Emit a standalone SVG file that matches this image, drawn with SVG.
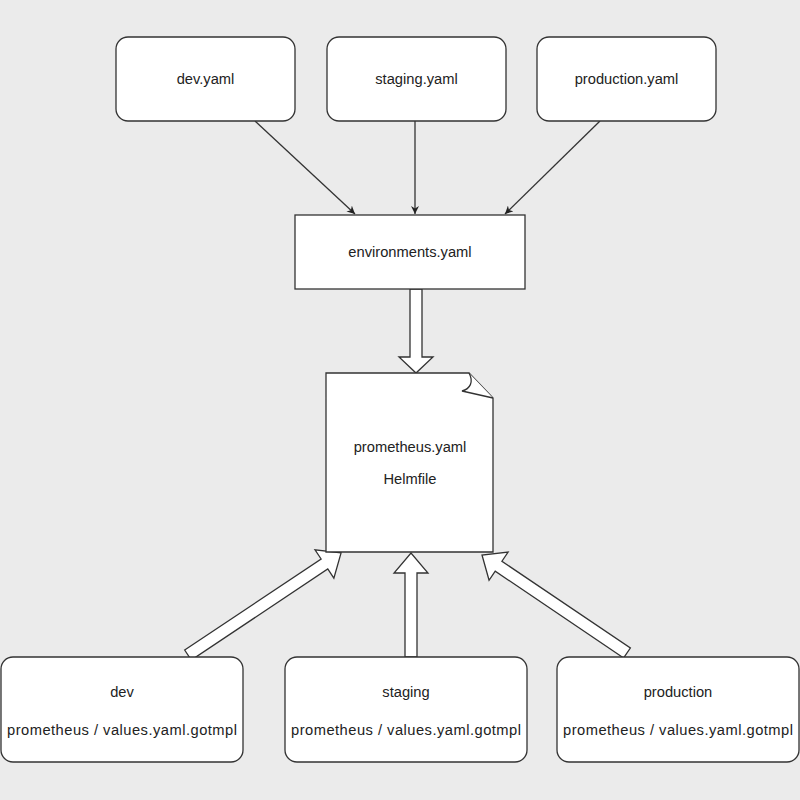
<svg xmlns="http://www.w3.org/2000/svg" width="800" height="800" viewBox="0 0 800 800">
<defs>
<style>
.box{fill:#fff;stroke:#333;stroke-width:1.3}
.t{font-family:"Liberation Sans",Arial,sans-serif;font-size:14.7px;fill:#222;text-anchor:middle;dominant-baseline:central}
.ln{stroke:#333;stroke-width:1.3;fill:none;marker-end:url(#ah)}
.blk{fill:#fff;stroke:#333;stroke-width:1.3;stroke-linejoin:miter}
</style>
<marker id="ah" viewBox="0 0 10 10" refX="10" refY="5" markerWidth="8" markerHeight="8" markerUnits="userSpaceOnUse" orient="auto">
<path d="M0,0 L10,5 L0,10 L3,5 Z" fill="#222"/>
</marker>
</defs>
<rect width="800" height="800" fill="#ebebeb"/>
<g id="connectors">
<line class="ln" x1="255" y1="121" x2="355" y2="214"/>
<line class="ln" x1="415" y1="121" x2="415" y2="214"/>
<line class="ln" x1="600" y1="121" x2="505" y2="214"/>
<polygon class="blk" transform="translate(416,289) rotate(90)" points="0,-6 68,-6 68,-17 84,0 68,17 68,6 0,6"/>
<polygon class="blk" transform="translate(411,657) rotate(-90)" points="0,-6 84,-6 84,-17 104,0 84,17 84,6 0,6"/>
<polygon class="blk" transform="translate(188,655) rotate(-33.7)" points="0,-6 164,-6 164,-17 184,0 164,17 164,6 0,6"/>
<polygon class="blk" transform="translate(627,653) rotate(-145.95)" points="0,-6 155,-6 155,-17 175,0 155,17 155,6 0,6"/>
</g>
<g id="dev-yaml"><rect class="box" x="116" y="37" width="179" height="84" rx="12"/><text class="t" x="205.5" y="79">dev.yaml</text></g>
<g id="staging-yaml"><rect class="box" x="327" y="37" width="179" height="84" rx="12"/><text class="t" x="416.5" y="79">staging.yaml</text></g>
<g id="production-yaml"><rect class="box" x="537" y="37" width="179" height="84" rx="12"/><text class="t" x="626.5" y="79">production.yaml</text></g>
<g id="environments"><rect class="box" x="295" y="215" width="230" height="74"/><text class="t" x="410" y="252">environments.yaml</text></g>
<g id="helmfile">
<path class="box" d="M326,373 H469 L493,398 V552 H326 Z"/>
<path class="box" d="M469,373 C474,382 470,389 462,391 L493,398"/>
<text class="t" x="410" y="447">prometheus.yaml</text>
<text class="t" x="410" y="479">Helmfile</text>
</g>
<g id="dev"><rect class="box" x="1" y="657" width="242" height="105" rx="12"/><text class="t" x="122" y="692">dev</text><text class="t" x="122" y="730" textLength="230" lengthAdjust="spacing">prometheus / values.yaml.gotmpl</text></g>
<g id="staging"><rect class="box" x="285" y="657" width="242" height="105" rx="12"/><text class="t" x="406" y="692">staging</text><text class="t" x="406" y="730" textLength="230" lengthAdjust="spacing">prometheus / values.yaml.gotmpl</text></g>
<g id="production"><rect class="box" x="557" y="657" width="242" height="105" rx="12"/><text class="t" x="678" y="692">production</text><text class="t" x="678" y="730" textLength="230" lengthAdjust="spacing">prometheus / values.yaml.gotmpl</text></g>
</svg>
